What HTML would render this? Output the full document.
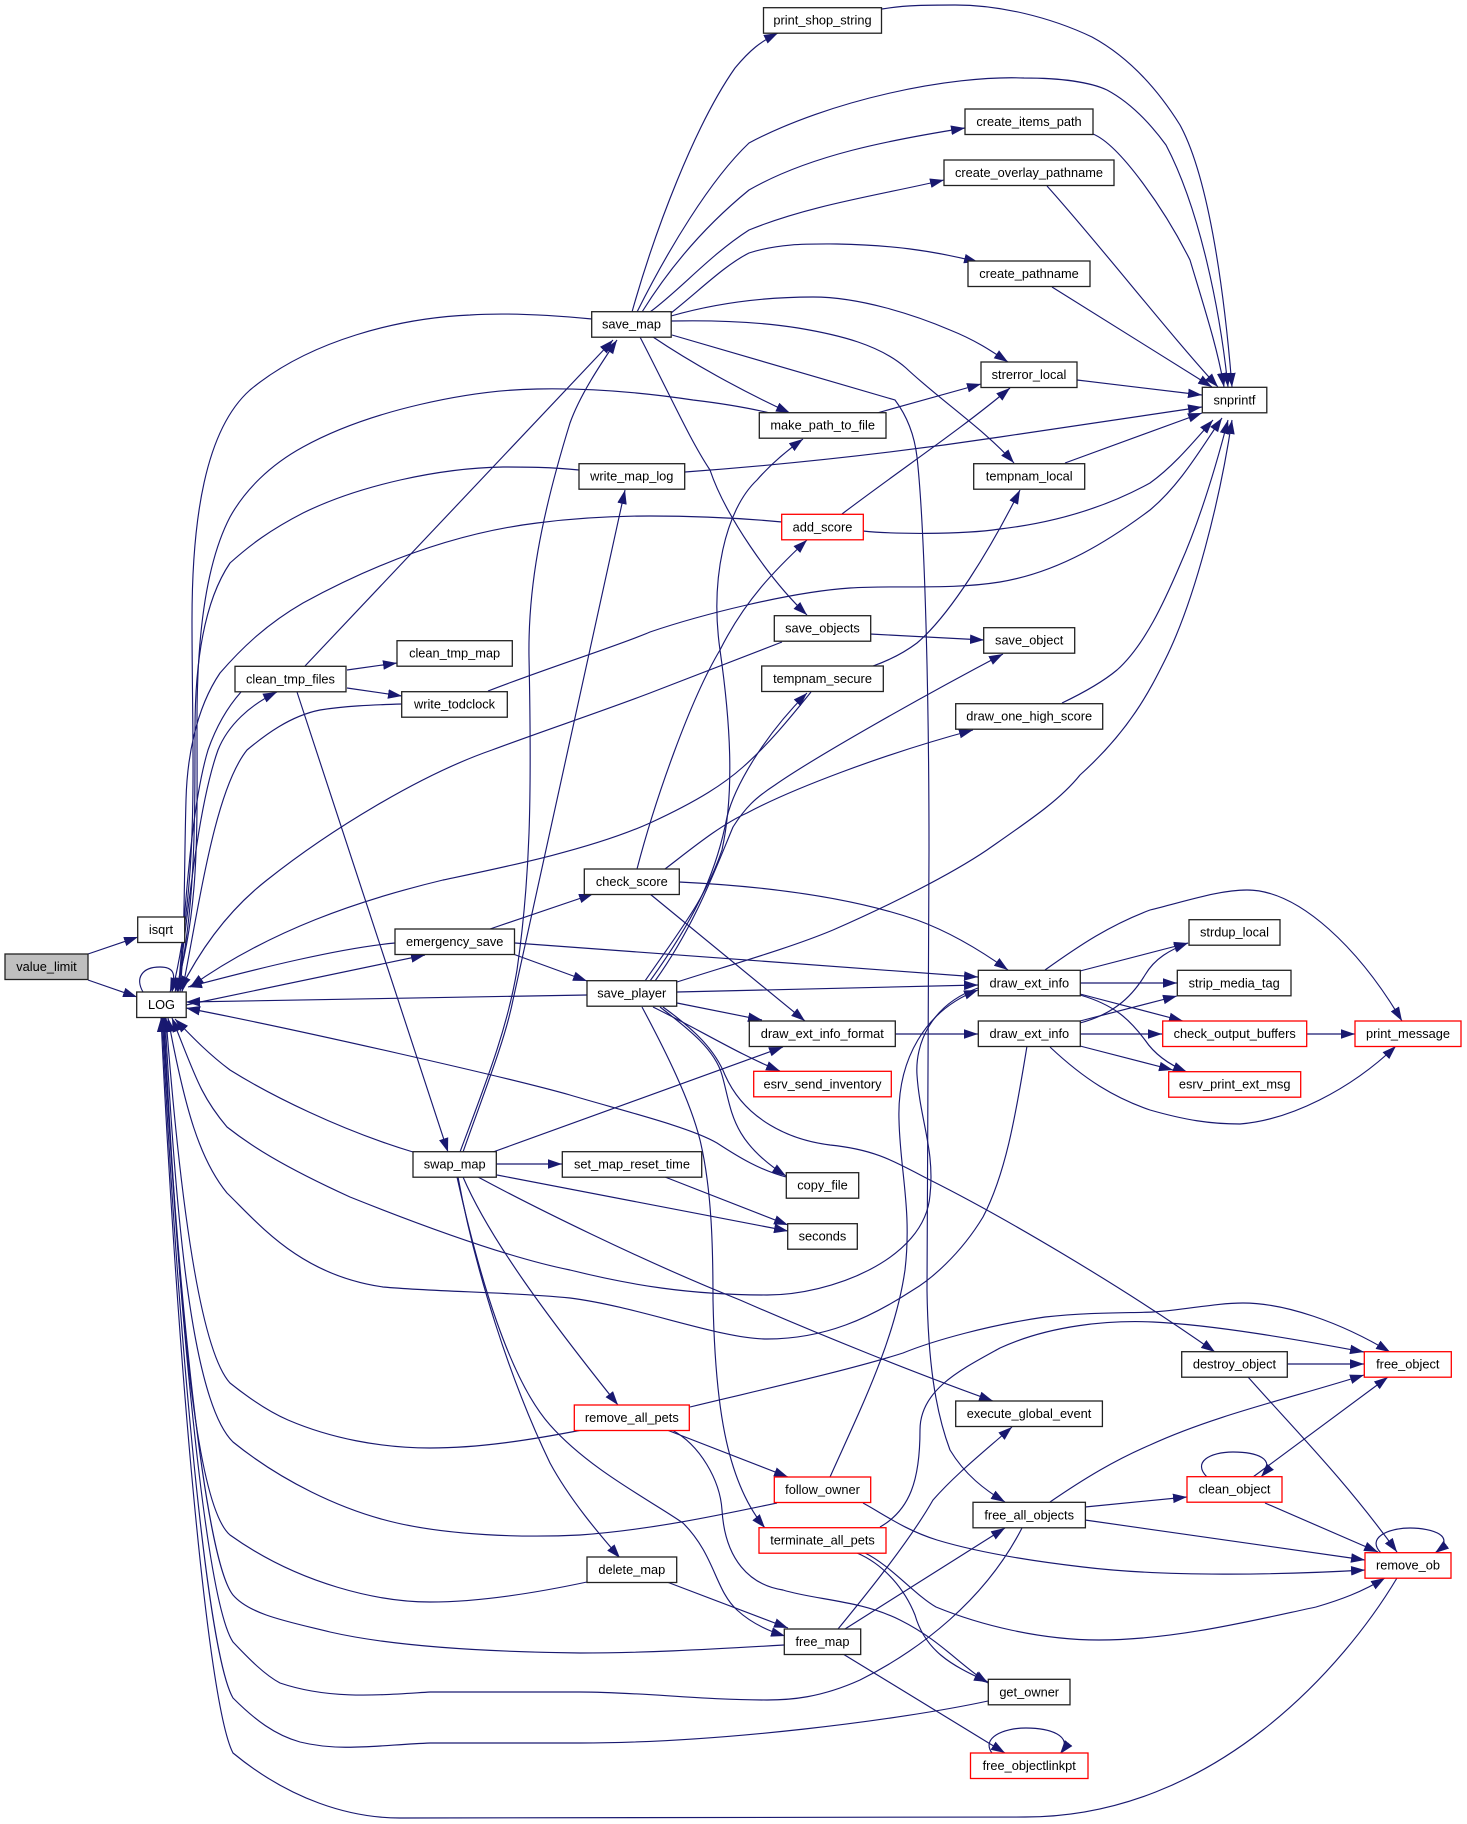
<!DOCTYPE html>
<html><head><meta charset="utf-8"><style>
html,body{margin:0;padding:0;background:#fff}
svg{display:block}
text{font-family:"Liberation Sans",sans-serif;font-size:12.8px;text-anchor:middle;fill:#000}
.e path{fill:none;stroke:#191970;stroke-width:1.15;marker-end:url(#a)}
.n rect{fill:#fff;stroke:#222;stroke-width:1.3}
.n rect.r{stroke:#ff0000}
</style></head><body>
<svg width="1467" height="1824" viewBox="0 0 1467 1824" xmlns="http://www.w3.org/2000/svg">
<defs><marker id="a" markerUnits="userSpaceOnUse" markerWidth="16" markerHeight="12" refX="14" refY="5.5" orient="auto"><path d="M0,0.7 L14,5.5 L0,10.3 Z" fill="#191970"/></marker></defs>
<g class="e">
<path d="M88,954 L138,937"/>
<path d="M88,980 L137,997"/>
<path d="M143,992 C135,978 142,967 160,967 C172,967 178,972 170,992"/>
<path d="M592,319 C540,314 500,313 470,315 C400,318 310,340 250,390 C205,430 192,520 192,620 C192,760 200,880 172,992"/>
<path d="M770,413 C740,406 710,402 693,400 C640,392 590,388 537,389 C470,390 370,410 303,447 C270,465 245,490 230,517 C205,565 197,640 197,720 C197,830 200,910 175,992"/>
<path d="M579,470 C550,467 525,467 503,467 C440,468 360,485 303,513 C270,530 250,545 230,563 C205,600 195,660 195,730 C195,830 195,910 177,992"/>
<path d="M782,522 C740,518 700,516 650,516 C600,516 560,520 537,523 C480,530 400,550 303,603 C265,625 240,650 220,673 C195,710 187,760 186,800 C184,870 185,940 180,992"/>
<path d="M241,692 C225,710 215,730 208,750 C190,810 185,920 178,992"/>
<path d="M178,992 C190,890 200,800 218,750 C228,725 250,705 277,692"/>
<path d="M402,704 C370,705 345,706 320,710 C290,716 265,735 247,750 C215,790 200,900 182,992"/>
<path d="M811,692 C790,718 768,745 743,767 C725,783 700,800 650,823 C590,850 500,868 443,880 C360,900 270,930 190,987"/>
<path d="M782,642 L650,693 C600,712 540,732 492,750 C420,775 330,830 267,880 C235,905 205,940 180,990"/>
<path d="M395,943 C340,948 260,968 188,987"/>
<path d="M186,1005 L425,955"/>
<path d="M587,995 L186,1002"/>
<path d="M786,1177 C760,1170 740,1158 717,1143 C690,1127 620,1110 570,1095 C510,1078 300,1030 186,1008"/>
<path d="M413,1152 C340,1130 270,1095 230,1070 C210,1055 195,1040 175,1019"/>
<path d="M978,988 C930,1005 915,1045 917,1075 C920,1120 935,1150 930,1195 C925,1260 830,1295 767,1295 C690,1295 630,1285 570,1270 C510,1258 420,1225 350,1197 C280,1165 250,1145 227,1127 C200,1095 195,1075 172,1018"/>
<path d="M1027,1046 C1015,1120 1005,1175 983,1217 C960,1255 930,1280 913,1290 C870,1318 825,1339 767,1339 C720,1339 640,1307 570,1298 C510,1292 440,1292 383,1287 C300,1275 260,1225 227,1193 C200,1160 185,1110 168,1018"/>
<path d="M582,1430 C530,1440 480,1448 430,1448 C380,1448 330,1438 288,1420 C265,1410 245,1395 230,1383 C200,1350 180,1200 166,1018"/>
<path d="M777,1503 C720,1515 650,1530 580,1535 C520,1538 450,1535 397,1523 C340,1510 280,1480 233,1442 C190,1400 175,1200 165,1018"/>
<path d="M587,1582 C540,1592 480,1602 430,1602 C380,1602 300,1585 230,1535 C195,1505 178,1300 164,1018"/>
<path d="M784,1645 C700,1650 640,1653 580,1653 C500,1652 400,1648 330,1632 C290,1622 250,1615 233,1595 C205,1560 178,1300 163,1018"/>
<path d="M1022,1528 C985,1600 920,1650 860,1680 C820,1698 790,1700 767,1700 C700,1700 640,1692 580,1692 L430,1692 C380,1695 330,1700 280,1683 C265,1675 250,1660 233,1642 C205,1600 178,1300 163,1018"/>
<path d="M988,1701 C900,1720 720,1743 580,1743 L430,1743 C380,1745 340,1752 300,1742 C275,1735 255,1720 233,1698 C205,1650 176,1300 162,1018"/>
<path d="M1397,1578 C1345,1665 1215,1817 1025,1817 L400,1818 C350,1818 290,1800 233,1753 C205,1700 174,1300 161,1018"/>
<path d="M632,312 C655,230 695,125 735,68 C750,50 760,42 778,33"/>
<path d="M882,9 C905,5 930,5 955,5 C1000,5 1050,17 1092,37 C1125,55 1155,85 1180,125 C1210,180 1225,300 1232,387"/>
<path d="M637,312 C668,250 710,180 749,143 C830,100 950,75 1024,78 C1060,78 1090,82 1107,90 C1135,105 1155,130 1166,145 C1200,210 1220,310 1228,387"/>
<path d="M642,312 C665,275 700,230 749,190 C810,155 890,140 965,128"/>
<path d="M1093,134 C1120,145 1165,210 1190,260 C1205,310 1218,350 1224,387"/>
<path d="M650,312 C680,290 710,255 749,230 C810,205 880,195 944,180"/>
<path d="M1047,186 C1100,245 1170,335 1218,387"/>
<path d="M671,313 C700,290 725,265 749,253 C780,243 810,244 837,244 C890,245 930,250 978,262"/>
<path d="M1052,287 L1212,387"/>
<path d="M671,316 C720,302 770,297 813,297 C860,297 915,315 950,330 C975,340 990,350 1008,362"/>
<path d="M671,321 C720,320 760,322 798,328 C840,335 880,345 906,368 C940,400 985,430 1014,463"/>
<path d="M1077,380 L1202,395"/>
<path d="M685,472 C780,465 880,455 1000,437 L1202,407"/>
<path d="M1065,463 L1202,413"/>
<path d="M877,413 L981,384"/>
<path d="M842,514 C900,470 960,430 1010,388"/>
<path d="M863,531 C890,534 960,535 1000,529 C1060,522 1110,505 1150,483 C1175,465 1195,440 1213,420"/>
<path d="M488,691 C550,667 620,645 650,632 C700,615 790,592 850,588 C900,585 950,590 1000,582 C1060,572 1110,540 1150,510 C1180,485 1200,450 1222,418"/>
<path d="M1062,703 C1085,692 1105,680 1117,670 C1145,645 1165,600 1180,565 C1200,520 1215,470 1228,420"/>
<path d="M677,982 C730,965 790,948 833,930 C890,905 950,875 987,850 C1030,820 1060,800 1080,775 C1130,730 1150,690 1165,660 C1195,600 1220,500 1232,420"/>
<path d="M873,666 C890,660 905,652 917,643 C950,615 990,550 1020,490"/>
<path d="M870,634 L984,640"/>
<path d="M347,670 L397,663"/>
<path d="M347,688 L402,696"/>
<path d="M297,692 L448,1152"/>
<path d="M305,666 L613,340"/>
<path d="M460,1152 C485,1085 507,1030 517,970 C530,880 532,800 529,657 C528,590 540,520 570,423 C580,395 600,365 617,340"/>
<path d="M463,1152 C485,1090 505,1040 513,1000 L625,490"/>
<path d="M672,335 L895,400 C910,420 915,440 917,457 C925,530 929,700 929,850 L927,1290 C928,1360 935,1410 950,1450 C965,1475 985,1490 1005,1502"/>
<path d="M640,337 C670,395 690,440 710,470 C725,515 770,580 807,615"/>
<path d="M653,337 C690,362 740,390 790,413"/>
<path d="M637,869 C655,800 690,700 720,650 C745,600 775,570 807,540"/>
<path d="M665,869 C690,850 720,825 747,813 C790,790 880,755 973,730"/>
<path d="M679,882 C720,884 830,890 917,920 C950,932 980,950 1008,970"/>
<path d="M650,894 L805,1021"/>
<path d="M490,929 L593,894"/>
<path d="M513,954 L587,981"/>
<path d="M515,943 L978,977"/>
<path d="M645,981 C680,930 705,900 722,850 C735,790 730,720 720,650 C710,580 725,510 757,480 C770,465 785,452 803,439"/>
<path d="M650,981 C690,925 715,880 727,817 C735,785 765,735 807,693"/>
<path d="M655,981 C695,925 715,870 733,827 C745,808 755,798 775,785 C815,757 925,695 1003,654"/>
<path d="M677,992 L978,985"/>
<path d="M677,1003 L762,1020"/>
<path d="M653,1007 C700,1030 740,1055 780,1071"/>
<path d="M660,1007 C690,1030 715,1050 722,1075 C732,1110 730,1140 786,1176"/>
<path d="M663,1007 C695,1030 715,1050 725,1075 C745,1120 790,1140 830,1145 C880,1150 900,1165 930,1180 C1000,1215 1120,1285 1215,1352"/>
<path d="M642,1007 C665,1050 690,1100 700,1140 C712,1190 713,1250 713,1300 C715,1400 725,1480 765,1528"/>
<path d="M895,1034 L978,1034"/>
<path d="M1080,971 L1188,943"/>
<path d="M1080,983 L1177,983"/>
<path d="M1080,994 L1183,1021"/>
<path d="M1080,995 C1115,1005 1130,1020 1145,1040 C1155,1055 1170,1065 1187,1072"/>
<path d="M1045,970 C1080,945 1110,925 1150,910 C1190,900 1220,890 1247,890 C1300,890 1360,950 1402,1021"/>
<path d="M1080,1023 C1110,1015 1130,1000 1145,975 C1155,958 1170,950 1188,943"/>
<path d="M1080,1021 L1177,996"/>
<path d="M1080,1034 L1162,1034"/>
<path d="M1080,1046 L1173,1070"/>
<path d="M1050,1047 C1085,1080 1115,1098 1150,1110 C1185,1120 1210,1124 1240,1124 C1290,1120 1350,1090 1396,1046"/>
<path d="M1306,1034 L1355,1034"/>
<path d="M493,1152 L783,1047"/>
<path d="M496,1164 L562,1164"/>
<path d="M497,1175 L788,1231"/>
<path d="M665,1177 L788,1225"/>
<path d="M478,1177 C530,1205 640,1260 740,1300 C820,1335 920,1375 993,1401"/>
<path d="M463,1177 C490,1240 550,1320 618,1405"/>
<path d="M458,1177 C475,1270 510,1380 550,1463 C570,1500 600,1535 620,1558"/>
<path d="M457,1177 C480,1280 510,1380 550,1425 C590,1470 650,1500 683,1523 C715,1555 715,1590 737,1610 C750,1622 765,1630 785,1636"/>
<path d="M667,1582 L788,1628"/>
<path d="M690,1407 C760,1390 850,1370 903,1353 C935,1340 990,1325 1045,1317 C1090,1312 1130,1313 1153,1312 C1185,1310 1215,1303 1243,1303 C1285,1303 1340,1322 1390,1352"/>
<path d="M667,1430 L788,1477"/>
<path d="M672,1430 C700,1445 720,1480 722,1510 C725,1560 750,1585 783,1590 C815,1600 860,1600 900,1620 C940,1640 960,1665 988,1683"/>
<path d="M830,1477 C860,1410 895,1340 905,1270 C912,1210 900,1170 899,1120 C897,1060 925,1010 978,990"/>
<path d="M863,1503 C885,1515 905,1530 937,1540 C980,1553 1040,1562 1083,1567 C1165,1577 1280,1575 1365,1570"/>
<path d="M880,1527 C910,1510 920,1480 920,1430 C920,1390 960,1370 1000,1348 C1050,1325 1110,1320 1153,1322 C1215,1325 1300,1340 1364,1352"/>
<path d="M865,1553 C890,1565 915,1595 936,1607 C980,1625 1040,1640 1099,1640 C1175,1640 1255,1620 1316,1607 C1340,1600 1362,1592 1385,1578"/>
<path d="M857,1553 C885,1565 905,1590 915,1615 C925,1650 950,1665 988,1682"/>
<path d="M838,1629 C870,1590 910,1540 933,1500 C955,1475 980,1455 1012,1427"/>
<path d="M845,1629 L1005,1528"/>
<path d="M843,1654 L1005,1753"/>
<path d="M1050,1502 C1085,1478 1115,1460 1150,1445 C1215,1415 1295,1397 1364,1375"/>
<path d="M1085,1507 L1187,1497"/>
<path d="M1085,1520 L1365,1560"/>
<path d="M1253,1477 L1388,1377"/>
<path d="M1207,1477 C1192,1462 1210,1452 1233,1452 C1255,1452 1278,1458 1261,1477"/>
<path d="M1265,1503 L1378,1552"/>
<path d="M1287,1364 L1364,1364"/>
<path d="M1248,1377 C1295,1430 1345,1480 1397,1552"/>
<path d="M1381,1553 C1366,1538 1388,1528 1410,1528 C1432,1528 1458,1536 1435,1553"/>
<path d="M992,1753 C981,1738 1003,1728 1026,1728 C1048,1728 1075,1735 1060,1754"/>
</g>
<g class="n">
<rect x="5" y="954" width="83" height="25.500" style="fill:#bfbfbf"/><text x="46.500" y="971">value_limit</text>
<rect x="137.700" y="917" width="47" height="25.500"/><text x="161" y="934">isqrt</text>
<rect x="136.700" y="992" width="49.500" height="25.500"/><text x="161.500" y="1009">LOG</text>
<rect x="763.500" y="7.700" width="118" height="25.500"/><text x="822.500" y="24.700">print_shop_string</text>
<rect x="965" y="109" width="128" height="25.500"/><text x="1029" y="126">create_items_path</text>
<rect x="944" y="160" width="170" height="25.500"/><text x="1029" y="177">create_overlay_pathname</text>
<rect x="968" y="261" width="122" height="25.500"/><text x="1029" y="278">create_pathname</text>
<rect x="591.700" y="311.700" width="79.500" height="25.500"/><text x="631.500" y="328.700">save_map</text>
<rect x="981" y="362" width="96" height="25.500"/><text x="1029" y="379">strerror_local</text>
<rect x="1202.300" y="387.300" width="64.500" height="25.500"/><text x="1234.500" y="404.300">snprintf</text>
<rect x="759.300" y="412.700" width="126.700" height="25.500"/><text x="822.700" y="429.700">make_path_to_file</text>
<rect x="973.700" y="463.700" width="111" height="25.500"/><text x="1029.200" y="480.700">tempnam_local</text>
<rect x="579" y="463.700" width="105.700" height="25.500"/><text x="631.800" y="480.700">write_map_log</text>
<rect class="r" x="781.700" y="514.300" width="81.600" height="25.500"/><text x="822.500" y="531.300">add_score</text>
<rect x="774.300" y="615.700" width="96.400" height="25.500"/><text x="822.500" y="632.700">save_objects</text>
<rect x="983.700" y="627.700" width="91" height="25.500"/><text x="1029.200" y="644.700">save_object</text>
<rect x="397" y="640.700" width="115.300" height="25.500"/><text x="454.600" y="657.700">clean_tmp_map</text>
<rect x="235" y="666.300" width="111" height="25.500"/><text x="290.500" y="683.300">clean_tmp_files</text>
<rect x="761.700" y="666" width="121.600" height="25.500"/><text x="822.500" y="683">tempnam_secure</text>
<rect x="401.700" y="691.700" width="105.600" height="25.500"/><text x="454.500" y="708.700">write_todclock</text>
<rect x="955.700" y="703.700" width="147" height="25.500"/><text x="1029.200" y="720.700">draw_one_high_score</text>
<rect x="584.300" y="869" width="95" height="25.500"/><text x="631.800" y="886">check_score</text>
<rect x="1189" y="919.700" width="91" height="25.500"/><text x="1234.500" y="936.700">strdup_local</text>
<rect x="395" y="929" width="119.500" height="25.500"/><text x="454.700" y="946">emergency_save</text>
<rect x="978.300" y="970.300" width="102" height="25.500"/><text x="1029.300" y="987.300">draw_ext_info</text>
<rect x="1177.300" y="970.300" width="113.700" height="25.500"/><text x="1234.200" y="987.300">strip_media_tag</text>
<rect x="587" y="980.700" width="89.700" height="25.500"/><text x="631.800" y="997.700">save_player</text>
<rect x="749.300" y="1021" width="146" height="25.500"/><text x="822.300" y="1038">draw_ext_info_format</text>
<rect x="978.300" y="1021" width="102" height="25.500"/><text x="1029.300" y="1038">draw_ext_info</text>
<rect class="r" x="1162.700" y="1021" width="144" height="25.500"/><text x="1234.700" y="1038">check_output_buffers</text>
<rect class="r" x="1355" y="1021" width="106" height="25.500"/><text x="1408" y="1038">print_message</text>
<rect class="r" x="753.700" y="1071.300" width="137.600" height="25.500"/><text x="822.500" y="1088.300">esrv_send_inventory</text>
<rect class="r" x="1168.700" y="1071.700" width="132" height="25.500"/><text x="1234.700" y="1088.700">esrv_print_ext_msg</text>
<rect x="413" y="1151.700" width="83.300" height="25.500"/><text x="454.700" y="1168.700">swap_map</text>
<rect x="562.300" y="1151.700" width="139.400" height="25.500"/><text x="632" y="1168.700">set_map_reset_time</text>
<rect x="786.300" y="1172.700" width="72.400" height="25.500"/><text x="822.500" y="1189.700">copy_file</text>
<rect x="787.700" y="1223.700" width="69.600" height="25.500"/><text x="822.500" y="1240.700">seconds</text>
<rect x="1181.700" y="1351.700" width="105.600" height="25.500"/><text x="1234.500" y="1368.700">destroy_object</text>
<rect class="r" x="1364.300" y="1351.700" width="87" height="25.500"/><text x="1407.800" y="1368.700">free_object</text>
<rect x="955.700" y="1401" width="146.700" height="25.500"/><text x="1029" y="1418">execute_global_event</text>
<rect class="r" x="574.300" y="1405" width="115" height="25.500"/><text x="631.800" y="1422">remove_all_pets</text>
<rect class="r" x="1187" y="1476.700" width="95" height="25.500"/><text x="1234.500" y="1493.700">clean_object</text>
<rect class="r" x="774.300" y="1477" width="96.400" height="25.500"/><text x="822.500" y="1494">follow_owner</text>
<rect x="973" y="1502.300" width="112.400" height="25.500"/><text x="1029.200" y="1519.300">free_all_objects</text>
<rect class="r" x="759" y="1527.700" width="127" height="25.500"/><text x="822.500" y="1544.700">terminate_all_pets</text>
<rect class="r" x="1365" y="1552.700" width="86" height="25.500"/><text x="1408" y="1569.700">remove_ob</text>
<rect x="587" y="1557" width="89.700" height="25.500"/><text x="631.800" y="1574">delete_map</text>
<rect x="784.300" y="1629" width="76.400" height="25.500"/><text x="822.500" y="1646">free_map</text>
<rect x="988.300" y="1679.300" width="81.700" height="25.500"/><text x="1029.200" y="1696.300">get_owner</text>
<rect class="r" x="970.500" y="1753" width="117.500" height="25.500"/><text x="1029.200" y="1770">free_objectlinkpt</text>
</g>
</svg>
</body></html>
